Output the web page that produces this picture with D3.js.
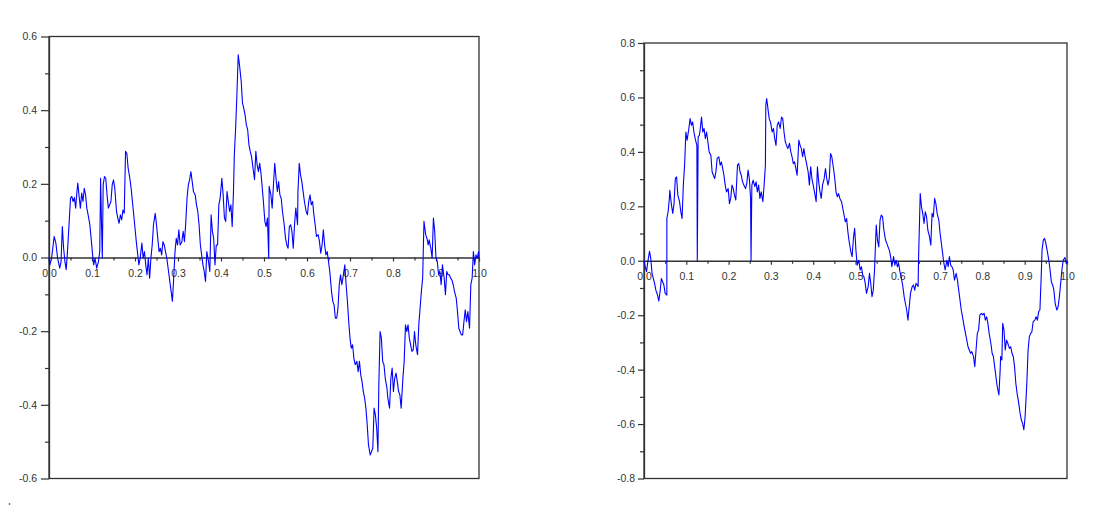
<!DOCTYPE html>
<html>
<head>
<meta charset="utf-8">
<script src="https://cdn.jsdelivr.net/npm/d3@7"></script>
<style>
  html, body { margin: 0; padding: 0; background: #fff; }
  svg { display: block; }
  text { font-family: "Liberation Sans", Arial, sans-serif; }
</style>
</head>
<body>
<svg id="chart" width="1093" height="507"></svg>
<script>
// ---------- Data ----------
const leftX = [0,.002,.006,.012,.016,.020,.025,.028,.031,.034,.037,.040,.043,.047,.050,.053,.056,.059,.062,.065,.067,.070,.073,.076,.079,.082,.085,.088,.091,.095,.098,.101,.104,.107,.111,.115,.118,.120,.122,.124,.126,.129,.132,.135,.138,.141,.144,.147,.150,.153,.157,.160,.163,.166,.169,.172,.175,.178,.181,.184,.188,.191,.194,.197,.200,.203,.206,.209,.212,.216,.219,.222,.225,.228,.231,.234,.237,.240,.243,.247,.250,.253,.256,.259,.262,.265,.268,.271,.274,.278,.281,.284,.287,.290,.293,.296,.299,.302,.305,.309,.312,.315,.318,.321,.324,.327,.330,.333,.336,.340,.343,.346,.349,.352,.355,.358,.361,.364,.367,.371,.374,.377,.380,.383,.386,.389,.392,.395,.398,.402,.405,.408,.411,.414,.417,.420,.423,.426,.429,.431,.434,.437,.440,.443,.447,.450,.453,.456,.459,.462,.465,.468,.471,.474,.478,.481,.484,.487,.490,.493,
.498,.502,.505,.508,.511,.512,.516,.519,.522,.525,.528,.531,.534,.537,.540,.543,.547,.550,.553,.556,.559,.562,.565,.568,.571,.574,.578,.579,.582,.585,.588,.591,.594,.598,.601,.604,.607,.610,.613,.616,.619,.622,.626,.629,.632,.635,.638,.641,.644,.647,.650,.653,.657,.660,.663,.666,.669,.672,.675,.678,.681,.684,.688,.691,.694,.697,.700,.703,.706,.709,.712,.716,.719,.722,.725,.728,.731,.734,.737,.740,.743,.747,.750,.753,.756,.759,.762,.765,.767,.770,.773,.776,.779,.782,.786,.788,.792,.795,.798,.801,.804,.807,.810,.813,.816,.819,.823,.826,.829,.832,.835,.838,.841,.844,.847,.850,.853,.857,.860,.863,.866,.869,.872,.876,.879,.882,.884,.888,.891,.894,.897,.900,.903,.906,.909,.912,.915,.919,.922,.925,.928,.931,.934,.937,.940,.943,.947,.950,.953,.956,.959,.962,.965,.968,.971,.974,.978,.981,.984,.987,.990,.993,.996,.999,1.0];
const leftY = [0,-.020,-.002,.057,.039,-.002,-.029,-.011,.084,.025,-.011,-.033,.016,.098,.161,.166,.152,.163,.134,.179,.202,.166,.134,.175,.152,.188,.170,.134,.116,.089,.052,.012,-.020,-.002,-.029,-.011,.016,.215,.098,-.002,.197,.220,.215,.170,.134,.143,.152,.197,.211,.188,.125,.107,.093,.116,.102,.129,.120,.288,.283,.243,.215,.188,.152,.116,.080,.043,.012,-.020,-.002,.039,-.002,.016,-.020,-.047,-.002,-.056,-.002,.034,.089,.120,.089,.052,.016,.025,.007,.043,.034,.016,-.002,-.038,-.065,-.092,-.119,-.056,.016,.052,.034,.075,.034,.043,.071,.043,.093,.161,.197,.211,.233,.206,.179,.170,.143,.125,.089,.034,.007,-.020,-.038,-.065,.016,-.011,-.038,.116,.071,.052,-.020,.034,.034,.143,.161,.215,.170,.107,.098,.179,.152,.125,.143,.084,.179,.279,.351,.442,.550,.523,.478,.419,.405,.387,.360,.347,.306,.288,.274,.247,.211,.288,.252,.233,.256,.229,
.161,.098,.084,.107,-.002,.193,.170,.134,.197,.256,.215,.179,.206,.170,.161,.125,.089,.052,.034,.025,.084,.089,.071,.025,.089,.134,.089,.179,.256,.224,.206,.179,.152,.125,.116,.152,.170,.143,.152,.116,.089,.057,.062,.043,.012,.034,.075,.034,.007,.016,-.011,-.038,-.092,-.119,-.129,-.165,-.165,-.138,-.074,-.047,-.074,-.052,-.020,-.074,-.119,-.174,-.219,-.246,-.237,-.273,-.291,-.282,-.310,-.282,-.319,-.337,-.364,-.382,-.409,-.454,-.509,-.536,-.527,-.518,-.409,-.427,-.463,-.527,-.346,-.201,-.219,-.282,-.291,-.328,-.355,-.382,-.409,-.328,-.300,-.364,-.328,-.314,-.337,-.364,-.373,-.409,-.328,-.282,-.183,-.201,-.183,-.219,-.237,-.255,-.251,-.201,-.237,-.264,-.183,-.138,-.092,-.056,.098,.062,.052,.034,.048,.025,-.002,.107,.071,-.002,-.011,-.047,-.038,-.074,-.020,-.056,-.101,-.038,-.047,-.047,-.056,-.061,-.074,-.092,-.110,-.147,-.192,-.201,-.210,-.210,-.174,-.142,-.174,-.147,-.192,-.074,-.056,.016,-.020,.007,-.002,.016,-.002];

const rightX = [0,.003,.006,.009,.013,.016,.019,.022,.025,.028,.032,.035,.038,.041,.044,.047,.050,.054,.054,.057,.060,.061,.065,.068,.071,.074,.077,.080,.084,.087,.090,.093,.096,.099,.102,.106,.109,.112,.115,.118,.121,.125,.126,.128,.131,.134,.136,.139,.142,.145,.148,.151,.154,.158,.161,.164,.167,.170,.173,.177,.180,.183,.186,.189,.192,.195,.199,.202,.205,.208,.211,.214,.217,.221,.224,.227,.230,.233,.236,.240,.243,.246,.249,.252,.253,.255,.258,.262,.265,.268,.271,.274,.277,.281,.284,.287,.288,.290,.293,.296,.299,.303,.306,.309,.312,.315,.318,.322,.325,.328,.331,.334,.337,.340,.344,.347,.350,.353,.356,.359,.362,.366,.369,.372,.375,.378,.381,.385,.388,.391,.394,.397,.400,.403,.407,.410,.413,.416,.419,.422,.426,.429,.432,.435,.438,.441,.444,.448,.451,.454,.457,.460,.463,.467,.470,.473,.476,.479,.482,.485,.489,.492,.495,.498,
.501,.504,.508,.511,.514,.517,.520,.523,.526,.530,.533,.536,.539,.542,.545,.549,.552,.555,.558,.561,.564,.567,.571,.574,.577,.580,.583,.586,.590,.593,.596,.599,.602,.605,.608,.612,.615,.618,.621,.624,.627,.630,.634,.637,.640,.643,.646,.648,.649,.653,.656,.659,.662,.665,.668,.671,.675,.678,.681,.684,.687,.690,.693,.697,.700,.703,.706,.709,.712,.716,.719,.722,.725,.728,.731,.734,.738,.741,.744,.747,.750,.753,.757,.760,.763,.766,.769,.772,.775,.779,.782,.785,.788,.791,.794,.798,.801,.804,.807,.810,.813,.816,.820,.823,.826,.829,.832,.835,.839,.842,.843,.846,.848,.851,.854,.857,.860,.864,.867,.870,.873,.876,.879,.882,.886,.889,.892,.895,.898,.901,.905,.908,.911,.914,.917,.920,.924,.927,.930,.933,.936,.939,.941,.944,.947,.950,.953,.957,.960,.963,.966,.969,.972,.976,.979,.982,.985,.988,.991,.995,.998,1.0];
const rightY = [0,-.022,-.040,-.004,.035,.009,-.046,-.065,-.083,-.108,-.126,-.148,-.114,-.065,-.077,-.089,-.120,-.126,.155,.180,.229,.259,.204,.174,.210,.302,.308,.241,.217,.180,.155,.278,.351,.473,.443,.486,.522,.498,.510,.473,.449,.424,0,.455,.461,.498,.528,.473,.486,.449,.473,.437,.400,.388,.327,.314,.302,.327,.376,.382,.351,.363,.339,.314,.278,.253,.265,.210,.229,.278,.265,.241,.223,.351,.357,.327,.314,.290,.278,.265,.284,.333,.302,.229,0,.278,.296,.272,.290,.253,.278,.229,.253,.217,.278,.351,.571,.596,.559,.522,.510,.473,.486,.449,.424,.498,.510,.486,.528,.522,.473,.437,.424,.412,.431,.400,.382,.357,.363,.339,.314,.443,.424,.412,.382,.412,.382,.351,.327,.278,.345,.302,.278,.253,.217,.345,.290,.253,.229,.278,.302,.339,.302,.278,.302,.394,.382,.339,.302,.253,.235,.247,.229,.217,.192,.168,.143,.155,.106,.070,.033,.015,.082,.119,
.039,-.016,.002,-.034,-.022,-.053,-.059,-.083,-.120,-.095,-.046,-.083,-.132,-.108,-.034,.131,.076,.051,.149,.168,.161,.113,.076,.064,.051,.039,.015,-.022,.015,-.016,.002,-.022,-.010,-.040,-.059,-.095,-.132,-.157,-.181,-.218,-.169,-.120,-.095,-.089,-.108,-.083,-.089,-.095,.002,.247,.198,.174,.137,.180,.161,.113,.088,.057,.174,.161,.229,.210,.174,.149,.100,.064,.027,-.010,-.034,.002,-.022,.015,-.016,-.022,-.034,-.071,-.046,-.071,-.108,-.144,-.181,-.206,-.242,-.267,-.291,-.316,-.328,-.340,-.334,-.352,-.389,-.328,-.267,-.254,-.199,-.193,-.199,-.193,-.218,-.206,-.230,-.267,-.303,-.340,-.352,-.389,-.426,-.462,-.493,-.401,-.352,-.365,-.230,-.254,-.328,-.291,-.303,-.322,-.316,-.340,-.352,-.389,-.450,-.487,-.524,-.560,-.585,-.597,-.621,-.572,-.450,-.328,-.279,-.267,-.261,-.224,-.218,-.206,-.218,-.187,-.181,-.059,.039,.076,.082,.064,.039,.002,-.034,-.077,-.089,-.108,-.157,-.181,-.169,-.132,-.083,-.034,.002,.012,-.010,0];

const xMajorTicks = [0,0.1,0.2,0.3,0.4,0.5,0.6,0.7,0.8,0.9,1.0];
const xMinorTicks = [0.05,0.15,0.25,0.35,0.45,0.55,0.65,0.75,0.85,0.95];
const leftYMajor = [-0.6,-0.4,-0.2,0,0.2,0.4,0.6];
const leftYMinor = [-0.5,-0.3,-0.1,0.1,0.3,0.5];
const rightYMajor = [-0.8,-0.6,-0.4,-0.2,0,0.2,0.4,0.6,0.8];
const rightYMinor = [-0.7,-0.5,-0.3,-0.1,0.1,0.3,0.5,0.7];

// ---------- Drawing ----------
const svg = d3.select("#chart");
const fmt = d => (Math.abs(d) < 1e-9 ? 0 : d).toFixed(1);
const axisColor = "#333";
const textColor = "#333";

function drawPanel(cfg) {
  const x = d3.scaleLinear().domain([0, 1]).range([cfg.l, cfg.r]);
  const y = d3.scaleLinear().domain(cfg.yDomain).range([cfg.b, cfg.t]);
  const g = svg.append("g");

  // frame
  g.append("rect")
    .attr("x", cfg.l).attr("y", cfg.t)
    .attr("width", cfg.r - cfg.l).attr("height", cfg.b - cfg.t)
    .attr("fill", "none").attr("stroke", axisColor).attr("stroke-width", 1.3);

  // y axis major
  const yAx = g.append("g").attr("transform", `translate(${cfg.l},0)`)
    .call(d3.axisLeft(y).tickValues(cfg.yMajor).tickSize(cfg.yMajorLen)
      .tickSizeOuter(0).tickPadding(cfg.yPad).tickFormat(fmt));
  yAx.select(".domain").attr("stroke", axisColor).attr("stroke-width", 1.3);
  yAx.selectAll(".tick line").attr("stroke", axisColor).attr("stroke-width", 1.2);
  yAx.selectAll(".tick text").attr("fill", textColor).style("font-size", "10.5px")
    .style("font-family", '"Liberation Sans", Arial, sans-serif');
  // y axis minor
  const yMin = g.append("g").attr("transform", `translate(${cfg.l},0)`)
    .call(d3.axisLeft(y).tickValues(cfg.yMinor).tickSize(cfg.yMinorLen)
      .tickSizeOuter(0).tickFormat(""));
  yMin.select(".domain").remove();
  yMin.selectAll(".tick line").attr("stroke", axisColor).attr("stroke-width", 1.2);

  // x axis at y = 0
  const xAx = g.append("g").attr("transform", `translate(0,${y(0)})`)
    .call(d3.axisBottom(x).tickValues(xMajorTicks).tickSize(4)
      .tickSizeOuter(0).tickPadding(8).tickFormat(fmt));
  xAx.select(".domain").attr("stroke", axisColor).attr("stroke-width", 1.3);
  xAx.selectAll(".tick line").attr("stroke", axisColor).attr("stroke-width", 1.2);
  xAx.selectAll(".tick text").attr("fill", textColor).style("font-size", "10.5px")
    .style("font-family", '"Liberation Sans", Arial, sans-serif');
  const xMin = g.append("g").attr("transform", `translate(0,${y(0)})`)
    .call(d3.axisBottom(x).tickValues(xMinorTicks).tickSize(3)
      .tickSizeOuter(0).tickFormat(""));
  xMin.select(".domain").remove();
  xMin.selectAll(".tick line").attr("stroke", axisColor).attr("stroke-width", 1.2);

  // curve
  const pts = cfg.xs.map((v, i) => [v, cfg.ys[i]]);
  g.append("path")
    .datum(pts)
    .attr("fill", "none")
    .attr("stroke", "#0000ff")
    .attr("stroke-width", 1.1)
    .attr("stroke-linejoin", "round")
    .attr("d", d3.line().x(d => x(d[0])).y(d => y(d[1])));
}

drawPanel({
  xs: leftX, ys: leftY, yDomain: [-0.6, 0.6],
  l: 49, r: 479, t: 36.5, b: 478.5,
  yMajor: leftYMajor, yMinor: leftYMinor,
  yMajorLen: 8, yMinorLen: 4, yPad: 4
});
drawPanel({
  xs: rightX, ys: rightY, yDomain: [-0.8, 0.8],
  l: 644, r: 1067, t: 43, b: 478.5,
  yMajor: rightYMajor, yMinor: rightYMinor,
  yMajorLen: 6, yMinorLen: 4, yPad: 3
});

// stray dot at bottom-left of the reference image
svg.append("circle").attr("cx", 9.5).attr("cy", 504).attr("r", 0.8).attr("fill", "#0000ff");
</script>
</body>
</html>
